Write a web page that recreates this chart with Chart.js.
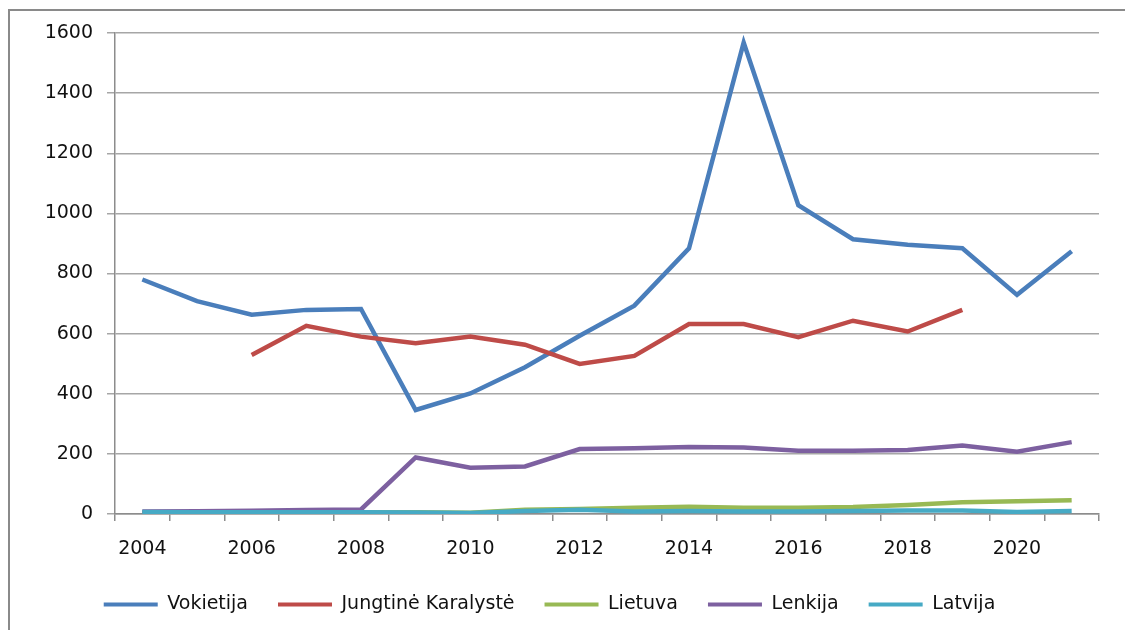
<!DOCTYPE html>
<html>
<head>
<meta charset="utf-8">
<script src="https://cdn.jsdelivr.net/npm/chart.js@4"></script>
<style>
  html, body { margin: 0; background: #fff; }
  #wrap { position: absolute; left: 0; top: 0; width: 1125px; height: 630px; overflow: hidden; }
  #frame { position: absolute; left: 8px; top: 9px; width: 1200px; height: 700px; border: 2px solid #8a8a8a; }
  #c { position: absolute; left: 0; top: 0; }
</style>
</head>
<body>
<div id="wrap">
  <div id="frame"></div>
  <canvas id="c" width="1125" height="630"></canvas>
</div>
<script>
/* data */
const years = ['2004','2005','2006','2007','2008','2009','2010','2011','2012',
               '2013','2014','2015','2016','2017','2018','2019','2020','2021'];
const vokietija = [780, 708, 663, 679, 682, 346, 401, 488, 593, 693, 884, 1568, 1027, 914, 896, 884, 729, 874];
const jungtineKaralyste = [null, null, 529, 626, 590, 568, 590, 563, 499, 526, 632, 632, 588, 643, 607, 679, null, null];
const lietuva = [5, 5, 5, 6, 6, 6, 4, 14, 17, 21, 24, 21, 21, 23, 30, 39, 42, 46];
const lenkija = [8, 9, 11, 13, 15, 188, 154, 158, 216, 219, 223, 221, 210, 210, 213, 228, 207, 239];
const latvija = [7, 6, 6, 6, 6, 5, 3, 10, 14, 8, 10, 8, 8, 10, 12, 12, 7, 10];
const yTicks = { min: 0, max: 1600, step: 200 };

const font = { family: '"DejaVu Sans", sans-serif', size: 19 };
const textColor = '#111';

const series = [
  { label: 'Vokietija', data: vokietija, color: '#4a7ebb' },
  { label: 'Jungtinė Karalystė', data: jungtineKaralyste, color: '#be4b48' },
  { label: 'Lietuva', data: lietuva, color: '#98b954' },
  { label: 'Lenkija', data: lenkija, color: '#7d60a0' },
  { label: 'Latvija', data: latvija, color: '#46aac5' }
];

new Chart(document.getElementById('c'), {
  type: 'line',
  data: {
    labels: years,
    datasets: series.map((s, i) => ({
      label: s.label,
      data: s.data,
      borderColor: s.color,
      backgroundColor: s.color,
      borderWidth: 4.5,
      pointRadius: 0,
      tension: 0,
      spanGaps: false,
      order: series.length - i   // later series on top, like the original
    }))
  },
  options: {
    responsive: false,
    animation: false,
    layout: { padding: { left: 0, right: 26, top: 33, bottom: 6 } },
    plugins: {
      tooltip: { enabled: false },
      legend: {
        position: 'bottom',
        labels: {
          font, color: textColor, boxWidth: 54, boxHeight: 4, padding: 30,
          sort: (a, b) => a.datasetIndex - b.datasetIndex,
          generateLabels(chart) {
            return Chart.defaults.plugins.legend.labels.generateLabels(chart).map(l => {
              l.lineWidth = 0;
              l.fillStyle = chart.data.datasets[l.datasetIndex].borderColor;
              return l;
            });
          }
        }
      }
    },
    scales: {
      x: {
        offset: true,
        grid: { offset: true, drawOnChartArea: false, drawTicks: true, tickLength: 7, color: '#8c8c8c', lineWidth: 1.5 },
        border: { color: '#8c8c8c', width: 1.5 },
        ticks: {
          autoSkip: false, maxRotation: 0, padding: 17, color: textColor, font,
          callback(v, i) { return i % 2 === 0 ? this.getLabelForValue(v) : ''; }
        },
        afterFit(s) { s.height = 51; }
      },
      y: {
        min: yTicks.min, max: yTicks.max,
        grid: { color: '#a6a6a6', lineWidth: 1.5, tickLength: 8 },
        border: { color: '#8c8c8c', width: 1.5 },
        ticks: { stepSize: yTicks.step, padding: 14, color: textColor, font, callback: v => String(v) },
        afterFit(s) { s.width = 115; }
      }
    }
  }
});
</script>
</body>
</html>
